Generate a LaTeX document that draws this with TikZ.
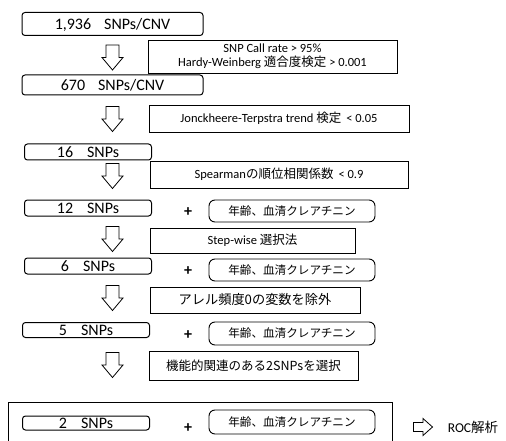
\documentclass[tikz,border=0pt]{standalone}
\usepackage{fontspec}
\setmainfont{Carlito}
\newfontfamily\jpfont{Noto Sans CJK JP}
\newcommand{\jt}[1]{{\jpfont #1}}
\begin{document}
\begin{tikzpicture}[x=1pt,y=-1pt,
  snpbox/.style={draw, rounded corners=3pt, line width=1pt, minimum width=127pt, minimum height=16pt, inner sep=0pt, text height=11pt, text depth=0pt, font=\fontsize{16}{16}\selectfont},
  bigsnp/.style={snpbox, minimum width=181pt},
  critbox/.style={draw, line width=0.9pt, inner sep=0pt, align=center, font=\fontsize{12.5}{14}\selectfont},
  agebox/.style={draw, rounded corners=6pt, line width=0.9pt, minimum width=166pt, minimum height=22pt, inner sep=0pt, font=\jpfont\fontsize{11.6}{12}\selectfont},
  plusnode/.style={inner sep=0pt, font=\fontsize{16}{16}\selectfont\bfseries},
  dnarrow/.pic={\draw[line width=0.8pt, fill=white] (-6.5,-12.5) -- (6.5,-12.5) -- (6.5,0) -- (10.5,0) -- (0,12.5) -- (-10.5,0) -- (-6.5,0) -- cycle;},
  rtarrow/.pic={\draw[line width=0.8pt, fill=white] (-9.5,-4.5) -- (0,-4.5) -- (0,-8.5) -- (9.5,0) -- (0,8.5) -- (0,4.5) -- (-9.5,4.5) -- cycle;}
]
\useasboundingbox (0,0) rectangle (506,441);
\clip (0,0) rectangle (506,441);

% step 1
\node[bigsnp, minimum height=23pt] (s1) at (112.5,24) {1,936\hspace{13pt}SNPs/CNV};
\node[critbox, minimum width=249pt, minimum height=33pt] (c1) at (272.5,56.5) {SNP Call rate > 95\%\\Hardy-Weinberg \jt{適合度検定} > 0.001};
\pic (d1) at (112.5,57.5) {dnarrow};
\node[bigsnp, minimum height=20pt] (s2) at (112.5,85) {670\hspace{13pt}SNPs/CNV};

% step 2
\pic (d2) at (112.5,119) {dnarrow};
\node[critbox, minimum width=260pt, minimum height=27pt] (c2) at (279,118.5) {Jonckheere-Terpstra trend \jt{検定}\hspace{5pt}< 0.05};
\node[snpbox] (s3) at (88,152) {16\hspace{14pt}SNPs};

% step 3
\pic (d3) at (112.5,176) {dnarrow};
\node[critbox, minimum width=258pt, minimum height=27pt] (c3) at (279,174.5) {Spearman\jt{の順位相関係数}\hspace{5pt}< 0.9};
\node[snpbox] (s4) at (88,208) {12\hspace{14pt}SNPs};
\node[plusnode] (p1) at (188,212) {+};
\node[agebox] (a1) at (292,211) {年齢、血清クレアチニン};

% step 4
\pic (d4) at (112.5,239) {dnarrow};
\node[critbox, minimum width=205pt, minimum height=25pt] (c4) at (252.5,240.5) {Step-wise \jt{選択法}};
\node[snpbox] (s5) at (88,266) {6\hspace{14pt}SNPs};
\node[plusnode] (p2) at (188,271) {+};
\node[agebox] (a2) at (292,270) {年齢、血清クレアチニン};

% step 5
\pic (d5) at (112.5,298) {dnarrow};
\node[critbox, minimum width=210pt, minimum height=26pt, font=\jpfont\fontsize{13.2}{14}\selectfont] (c5) at (255,300) {アレル頻度0の変数を除外};
\node[snpbox, minimum height=15pt] (s6) at (86,330) {5\hspace{14pt}SNPs};
\node[plusnode] (p3) at (188,335) {+};
\node[agebox, minimum height=23pt] (a3) at (292,333.5) {年齢、血清クレアチニン};

% step 6
\pic (d6) at (112.5,365) {dnarrow};
\node[critbox, minimum width=209pt, minimum height=29pt, font=\jpfont\fontsize{12.5}{14}\selectfont] (c6) at (253.5,365.5) {機能的関連のある2SNPsを選択};

% final
\draw[line width=0.9pt] (8,402) rectangle (392,450);
\node[snpbox, minimum height=14pt] (s7) at (86,423) {2\hspace{14pt}SNPs};
\node[plusnode] (p4) at (188,428) {+};
\node[agebox, minimum height=24pt] (a4) at (292,422) {年齢、血清クレアチニン};
\pic (r1) at (423,427) {rtarrow};
\node[inner sep=0pt, font=\fontsize{13.5}{14}\selectfont] (roc) at (473,427) {ROC\jt{解析}};
\end{tikzpicture}
\end{document}
